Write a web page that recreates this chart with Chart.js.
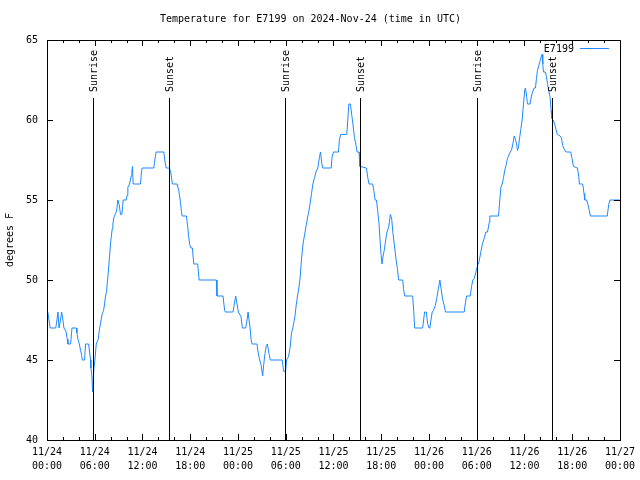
<!DOCTYPE html>
<html>
<head>
<meta charset="utf-8">
<script src="https://cdn.jsdelivr.net/npm/chart.js@4"></script>
<style>
  body { margin: 0; background: #fff; }
  canvas { display: block; }
</style>
</head>
<body>
<canvas id="myChart" width="640" height="480"></canvas>
<script>
// hours since 2024-11-24 00:00 UTC
const hours = [
  0.1, 0.4, 1.1, 1.25, 1.38, 1.51, 1.7, 1.84, 2.0, 2.13, 2.38, 2.55, 2.63, 2.97, 3.14, 3.68, 3.76, 3.89, 4.06, 4.22,
  4.35, 4.43, 4.72, 4.85, 5.23, 5.35, 5.48, 5.52, 5.64, 5.73, 5.9, 6.02, 6.19, 6.44, 6.56, 6.73, 6.94, 7.11, 7.23, 7.36,
  7.49, 7.57, 7.69, 7.86, 8.03, 8.2, 8.28, 8.4, 8.57, 8.74, 8.91, 9.07, 9.24, 9.41, 9.5, 9.57, 9.95, 10.08, 10.16, 10.37,
  10.58, 10.66, 10.75, 10.83, 11.75, 11.88, 11.96, 13.42, 13.55, 13.71, 14.68, 14.8, 14.97, 15.39, 15.56, 15.76, 16.35, 16.56, 16.77, 16.89,
  16.98, 17.52, 17.69, 17.81, 17.94, 18.1, 18.27, 18.44, 18.94, 19.11, 21.28, 21.36, 22.12, 22.32, 22.4, 23.37, 23.54, 23.71, 23.88, 24.05,
  24.38, 24.55, 24.97, 25.14, 25.27, 25.39, 25.52, 25.64, 25.77, 26.39, 26.52, 26.73, 26.9, 27.1, 27.23, 27.39, 27.56, 27.69, 27.9, 28.06,
  29.56, 29.73, 29.98, 30.1, 30.35, 30.56, 30.73, 30.89, 31.15, 31.31, 31.48, 31.65, 31.82, 31.98, 32.19, 32.36, 32.57, 32.78, 32.91, 33.07,
  33.24, 33.41, 33.62, 33.83, 34.03, 34.24, 34.37, 34.53, 34.66, 35.71, 35.83, 36.0, 36.63, 36.75, 36.92, 37.67, 37.8, 37.93, 38.13, 38.3,
  38.43, 38.64, 38.8, 38.97, 39.22, 39.3, 40.14, 40.31, 40.47, 40.93, 41.06, 41.23, 41.4, 41.56, 41.73, 41.85, 41.98, 42.1, 42.23, 42.4,
  42.56, 42.73, 42.94, 43.15, 43.32, 43.48, 43.65, 43.86, 44.03, 44.19, 44.7, 44.82, 44.95, 45.95, 46.08, 46.2, 47.2, 47.33, 47.45, 47.66,
  47.83, 48.0, 48.12, 48.25, 48.41, 48.58, 48.79, 49.0, 49.16, 49.37, 49.54, 49.71, 49.92, 50.08, 52.43, 52.56, 52.73, 53.19, 53.35, 53.52,
  53.69, 53.9, 54.11, 54.32, 54.53, 54.74, 54.94, 55.15, 55.36, 55.57, 55.65, 56.74, 56.87, 57.04, 57.2, 57.37, 57.54, 57.7, 57.87, 58.04,
  58.21, 58.37, 58.54, 58.71, 58.87, 59.04, 59.12, 59.25, 59.37, 59.54, 59.71, 59.88, 60.04, 60.13, 60.29, 60.38, 60.71, 60.88, 61.05, 61.21,
  61.38, 61.51, 61.63, 61.8, 61.97, 62.13, 62.22, 62.3, 62.39, 62.64, 62.76, 62.89, 63.06, 63.22, 63.35, 63.43, 63.64, 63.81, 63.97, 64.14,
  64.48, 64.64, 64.81, 64.98, 65.23, 65.81, 65.98, 66.15, 66.65, 66.82, 66.9, 67.32, 67.49, 67.57, 67.82, 67.99, 68.12, 68.29, 70.41, 70.58,
  70.75, 72.0
];
// degrees F
const temps = [
  48, 47, 47, 47.5, 48, 47, 47.5, 48, 47.5, 47, 46.8, 46.3, 46, 46, 47, 47, 46.7, 46.3, 46, 45.6,
  45.3, 45, 45, 46, 46, 45.5, 45, 44.5, 44, 43, 44.5, 45, 46, 46.3, 46.8, 47.3, 47.9, 48.1, 48.5, 49,
  49.3, 49.8, 50.4, 51.5, 52.5, 53.2, 53.5, 53.9, 54.1, 54.3, 55, 54.7, 54.1, 54.1, 54.6, 55, 55, 55.3, 55.8, 56,
  56.5, 56.8, 57.1, 56, 56, 56.8, 57, 57, 57.5, 58, 58, 57.5, 57, 57, 56.7, 56, 56, 55.6, 54.9, 54.3,
  54, 54, 53.3, 52.7, 52.2, 52, 52, 51, 51, 50, 50, 49, 49, 48.1, 48, 48, 48.5, 49, 48.5, 48,
  47.7, 47, 47, 47.5, 48, 47.5, 47, 46.3, 46, 46, 45.5, 45, 44.7, 44, 44.7, 45.4, 45.9, 46, 45.4, 45,
  45, 44.3, 44.3, 45, 45.2, 45.8, 46.7, 47, 47.7, 48.4, 49, 49.5, 50.2, 51.3, 52.3, 52.8, 53.4, 54, 54.3, 54.8,
  55.4, 56, 56.4, 56.8, 57, 57.7, 58, 57.3, 57, 57, 57.7, 58, 58, 58.8, 59.1, 59.1, 60, 61, 61, 60.3,
  59.8, 58.9, 58.5, 58, 58, 57.1, 57, 56.4, 56, 56, 55.6, 55, 55, 54.3, 53.5, 52.5, 51.6, 51, 51.5, 51.9,
  52.5, 53, 53.3, 54.1, 53.8, 52.9, 52.2, 51.3, 50.7, 50, 50, 49.4, 49, 49, 48.1, 47, 47, 47.5, 48, 48,
  47.3, 47, 47, 47.5, 48, 48.1, 48.4, 48.9, 49.4, 50, 49.4, 48.8, 48.4, 48, 48, 48.5, 49, 49, 49.6, 50,
  50.1, 50.5, 50.9, 51.2, 51.8, 52.3, 52.6, 53, 53, 53.6, 54, 54, 54.8, 55.8, 56, 56.4, 56.9, 57.2, 57.6, 57.8,
  58, 58.1, 58.5, 59, 58.8, 58.4, 58.1, 58.3, 58.8, 59.4, 60, 61, 61.9, 62, 61.4, 61, 61, 61.5, 61.8, 62,
  62, 62.6, 63.1, 63.4, 63.7, 64, 64.1, 63.5, 63, 63, 62.7, 62.3, 61.8, 61.4, 60.6, 60.1, 60, 59.7, 59.4, 59.1,
  59, 58.9, 58.4, 58.2, 58, 58, 57.6, 57.1, 57, 56.5, 56, 56, 55.4, 55, 55, 54.7, 54.4, 54, 54, 54.7,
  55, 55
];

// sunrise / sunset times (hours since start)
const sunEvents = [
  { h: 5.8, label: 'Sunrise' },
  { h: 15.35, label: 'Sunset' },
  { h: 29.9, label: 'Sunrise' },
  { h: 39.3, label: 'Sunset' },
  { h: 54.0, label: 'Sunrise' },
  { h: 63.4, label: 'Sunset' }
];

const startDay = 24;
const FONT = 'DejaVu Sans Mono';

function pad(n) { return n < 10 ? '0' + n : '' + n; }

// gnuplot style frame, inward ticks, sun lines, legend
const gnuFrame = {
  id: 'gnuFrame',
  afterDatasetsDraw(chart) {
    const ctx = chart.ctx;
    const a = chart.chartArea;
    const xs = chart.scales.x, ys = chart.scales.y;
    ctx.save();
    ctx.strokeStyle = '#000';
    ctx.lineWidth = 1;

    // sun lines
    ctx.font = '10px ' + FONT;
    ctx.fillStyle = '#000';
    sunEvents.forEach(ev => {
      const x = Math.round(xs.getPixelForValue(ev.h)) + 0.5;
      ctx.beginPath();
      ctx.moveTo(x, a.top + 58);
      ctx.lineTo(x, a.bottom);
      ctx.stroke();
      ctx.save();
      ctx.translate(x + 1, a.top + 52);
      ctx.rotate(-Math.PI / 2);
      ctx.textAlign = 'left';
      ctx.textBaseline = 'middle';
      ctx.fillText(ev.label, 0, 0);
      ctx.restore();
    });

    // border
    ctx.strokeRect(Math.round(a.left) + 0.5, Math.round(a.top) + 0.5,
      Math.round(a.right - a.left), Math.round(a.bottom - a.top));

    // x ticks (bottom + top mirror)
    ctx.beginPath();
    for (let h = 0; h <= 72; h += 2) {
      const x = Math.round(xs.getPixelForValue(h)) + 0.5;
      const len = h % 6 === 0 ? 6 : 3;
      ctx.moveTo(x, a.bottom);
      ctx.lineTo(x, a.bottom - len);
      ctx.moveTo(x, a.top);
      ctx.lineTo(x, a.top + len);
    }
    // y ticks (left + right mirror)
    for (let v = 40; v <= 65; v += 5) {
      const y = Math.round(ys.getPixelForValue(v)) + 0.5;
      ctx.moveTo(a.left, y);
      ctx.lineTo(a.left + 6, y);
      ctx.moveTo(a.right, y);
      ctx.lineTo(a.right - 6, y);
    }
    ctx.stroke();

    // legend
    const ds = chart.data.datasets[0];
    ctx.textAlign = 'right';
    ctx.textBaseline = 'middle';
    ctx.fillText(ds.label, a.right - 46, a.top + 9);
    ctx.strokeStyle = ds.borderColor;
    ctx.beginPath();
    ctx.moveTo(a.right - 40, a.top + 8.5);
    ctx.lineTo(a.right - 11, a.top + 8.5);
    ctx.stroke();
    ctx.restore();
  }
};

const data = {
  datasets: [
    {
      label: 'E7199',
      borderColor: '#1e88ff',
      borderWidth: 1,
      pointRadius: 0,
      tension: 0,
      fill: false,
      data: hours.map((h, i) => ({ x: h, y: temps[i] }))
    }
  ]
};

const config = {
  type: 'line',
  data: data,
  options: {
    responsive: false,
    animation: false,
    layout: { padding: { left: 0, right: 19, top: 0, bottom: 0 } },
    plugins: {
      legend: { display: false },
      tooltip: { enabled: false },
      title: {
        display: true,
        text: 'Temperature for E7199 on 2024-Nov-24 (time in UTC)',
        color: '#000',
        font: { family: FONT, size: 10, weight: 'normal' },
        padding: { top: 13, bottom: 15 }
      }
    },
    scales: {
      x: {
        type: 'linear',
        min: 0,
        max: 72,
        grid: { display: false, drawTicks: false },
        border: { display: false },
        ticks: {
          stepSize: 6,
          autoSkip: false,
          maxRotation: 0,
          color: '#000',
          padding: 5,
          font: { family: FONT, size: 10, lineHeight: 1.4 },
          callback: value => {
            const day = startDay + Math.floor(value / 24);
            return ['11/' + day, pad(value % 24) + ':00'];
          }
        },
        afterFit: s => { s.height = 40; }
      },
      y: {
        min: 40,
        max: 65,
        grid: { display: false, drawTicks: false },
        border: { display: false },
        ticks: {
          stepSize: 5,
          color: '#000',
          padding: 9,
          font: { family: FONT, size: 10 }
        },
        title: {
          display: true,
          text: 'degrees F',
          color: '#000',
          padding: { top: 4, bottom: 0 },
          font: { family: FONT, size: 10 }
        },
        afterFit: s => { s.width = 47; }
      }
    }
  },
  plugins: [gnuFrame]
};

const myChart = new Chart(document.getElementById('myChart'), config);
</script>
</body>
</html>
